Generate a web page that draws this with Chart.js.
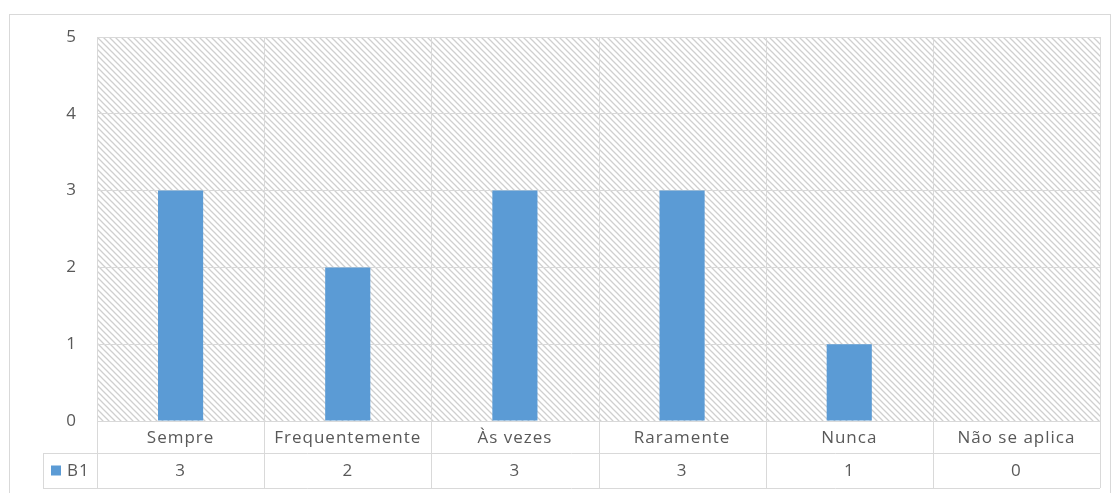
<!DOCTYPE html>
<html>
<head>
<meta charset="utf-8">
<script src="https://cdn.jsdelivr.net/npm/chart.js@4/dist/chart.umd.min.js"></script>
<style>
  html, body { margin: 0; background: #fff; }
  #wrap { width: 1112px; height: 493px; }
</style>
</head>
<body>
<div id="wrap"><canvas id="chart"></canvas></div>
<script>
const categories = ['Sempre', 'Frequentemente', 'Às vezes', 'Raramente', 'Nunca', 'Não se aplica'];
const seriesName = 'B1';
const values = [3, 2, 3, 3, 1, 0];
const yMax = 5;

const BAR = '#5B9BD5';
const LINE = '#d9d9d9';
const TEXT = '#595959';
const FONT = '"Open Sans", sans-serif';

function makeHatch() {
    const c = document.createElement('canvas');
    c.width = 6; c.height = 6;
    const g = c.getContext('2d');
    g.fillStyle = '#fff';
    g.fillRect(0, 0, 6, 6);
    g.strokeStyle = '#cfcfcf';
    g.lineWidth = 1.3;
    g.beginPath();
    g.moveTo(-1, -1); g.lineTo(7, 7);
    g.moveTo(-1, 5); g.lineTo(1, 7);
    g.moveTo(5, -1); g.lineTo(7, 1);
    g.stroke();
    return g.createPattern(c, 'repeat');
}

const hatchBg = {
    id: 'hatchBg',
    beforeDraw(chart) {
        const { ctx, chartArea: a } = chart;
        ctx.save();
        ctx.fillStyle = makeHatch();
        ctx.fillRect(a.left, a.top, a.right - a.left, a.bottom - a.top);
        ctx.restore();
    }
};

// Excel style data table under the plot
const dataTable = {
    id: 'dataTable',
    afterDraw(chart) {
        const { ctx, chartArea: a } = chart;
        const x = chart.scales.x;
        const row1 = a.bottom, row2 = a.bottom + 32, row3 = a.bottom + 67;
        const step = (a.right - a.left) / categories.length;
        const keyLeft = 43;

        ctx.save();
        ctx.strokeStyle = LINE;
        ctx.lineWidth = 1;

        // outer chart border
        ctx.strokeRect(9.5, 14.5, 1101, 490);

        ctx.beginPath();
        for (let i = 0; i <= categories.length; i++) {
            const px = Math.round(a.left + i * step) + 0.5;
            ctx.moveTo(px, a.top);
            ctx.lineTo(px, row3);
        }
        ctx.moveTo(a.left, row1 + 0.5); ctx.lineTo(a.right, row1 + 0.5);
        ctx.moveTo(keyLeft, row2 + 0.5); ctx.lineTo(a.right, row2 + 0.5);
        ctx.moveTo(keyLeft, row3 + 0.5); ctx.lineTo(a.right, row3 + 0.5);
        ctx.moveTo(keyLeft + 0.5, row2); ctx.lineTo(keyLeft + 0.5, row3);
        ctx.stroke();

        ctx.fillStyle = TEXT;
        ctx.font = '17px ' + FONT;
        ctx.letterSpacing = '1px';
        ctx.textAlign = 'center';
        ctx.textBaseline = 'middle';
        categories.forEach((c, i) => {
            const cx = x.getPixelForValue(i);
            ctx.fillText(c, cx, (row1 + row2) / 2 + 1);
            ctx.fillText(String(values[i]), cx, (row2 + row3) / 2 + 1);
        });

        ctx.fillStyle = BAR;
        ctx.fillRect(51, (row2 + row3) / 2 - 5, 10, 10);
        ctx.fillStyle = TEXT;
        ctx.textAlign = 'left';
        ctx.fillText(seriesName, 67, (row2 + row3) / 2 + 1);
        ctx.restore();
    }
};

new Chart(document.getElementById('chart'), {
    type: 'bar',
    data: {
        labels: categories,
        datasets: [{
            label: seriesName,
            data: values,
            backgroundColor: BAR,
            categoryPercentage: 1,
            barPercentage: 0.27
        }]
    },
    options: {
        responsive: true,
        maintainAspectRatio: false,
        animation: false,
        layout: { padding: { top: 37, right: 12, left: 0, bottom: 0 } },
        plugins: {
            legend: { display: false },
            tooltip: { enabled: false }
        },
        scales: {
            x: {
                ticks: { display: false },
                grid: { display: false },
                border: { display: false },
                afterFit(scale) { scale.height = 72; }
            },
            y: {
                min: 0,
                max: yMax,
                ticks: {
                    stepSize: 1,
                    padding: 21,
                    color: TEXT,
                    font: { family: FONT, size: 17 }
                },
                grid: { color: LINE, drawTicks: false },
                border: { display: false },
                afterFit(scale) { scale.width = 97; }
            }
        }
    },
    plugins: [hatchBg, dataTable]
});
</script>
</body>
</html>
